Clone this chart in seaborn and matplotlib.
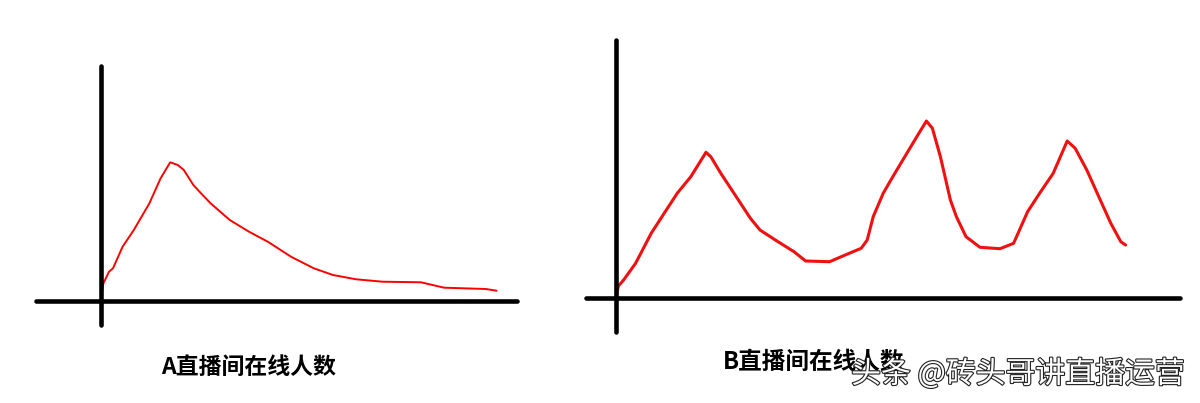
import seaborn as sns
import matplotlib.pyplot as plt
import matplotlib.patheffects as pe
import pandas as pd

# Room A: one peak early, then a long decay (time in minutes, online viewers)
a_time = [0, 0.6, 2, 3, 5.4, 8.2, 12.1, 14.9, 17.3, 19.2, 20.7, 23.1, 25, 27.4,
          32.2, 37, 41.7, 47.5, 53.2, 58, 63.8, 70.4, 80, 85.8, 96.2, 98.9]
a_viewers = [20, 177, 293, 327, 543, 710, 977, 1227, 1387, 1360, 1310, 1160, 1077, 977,
             810, 693, 593, 443, 327, 260, 217, 193, 187, 133, 120, 103]

# Room B: three waves of viewers
b_time = [0, 0.6, 1.9, 4.9, 8.8, 12.3, 15.3, 18.7, 22.5, 23.7, 26.2, 30.6, 33.6, 36,
          40.5, 44.5, 47.4, 53.4, 57.3, 61.3, 62.8, 64.3, 66.8, 69.2, 72.2, 75.2, 77.6,
          79.1, 81.1, 83.6, 85.1, 87.5, 91, 96, 99.4, 102.9, 105.9, 109.3, 112.8, 114.8,
          117.7, 120.7, 123.7, 126.2, 127.4]
b_viewers = [10, 120, 180, 347, 647, 863, 1047, 1213, 1457, 1413, 1247, 980, 797, 680,
             563, 463, 370, 363, 430, 497, 580, 813, 1047, 1213, 1413, 1613, 1770,
             1697, 1413, 980, 813, 613, 507, 493, 547, 863, 1047, 1247, 1570, 1497,
             1280, 1013, 747, 563, 530]

label_a = "A直播间在线人数"
label_b = "B直播间在线人数"
watermark = "头条 @砖头哥讲直播运营"

sns.set_style("white")
plt.rcParams['font.family'] = ['Noto Sans CJK SC', 'DejaVu Sans']

W, H = 1200, 403
fig = plt.figure(figsize=(12, 4.03), dpi=100)


def make_axes(left, right, top, bottom):
    """Axes placed by pixel box of the hand-drawn frame."""
    return fig.add_axes([left / W, 1 - bottom / H, (right - left) / W, (bottom - top) / H])


def style_axes(ax):
    for side in ['top', 'right']:
        ax.spines[side].set_visible(False)
    for side in ['left', 'bottom']:
        ax.spines[side].set_position(('data', 0))
        ax.spines[side].set_linewidth(3.3)
        ax.spines[side].set_color('black')
        ax.spines[side].set_capstyle('round')
    ax.set_xticks([])
    ax.set_yticks([])
    ax.set_xlabel('')
    ax.set_ylabel('')
    ax.patch.set_alpha(0)


df_a = pd.DataFrame({'time': a_time, 'viewers': a_viewers})
ax_a = make_axes(36, 517, 66, 325)
sns.lineplot(data=df_a, x='time', y='viewers', ax=ax_a, color='#ff0000', linewidth=1.4, sort=False)
ax_a.set_xlim(-16.25, 104)
ax_a.set_ylim(-240, 2350)
style_axes(ax_a)

df_b = pd.DataFrame({'time': b_time, 'viewers': b_viewers})
ax_b = make_axes(586, 1180, 40, 332)
sns.lineplot(data=df_b, x='time', y='viewers', ax=ax_b, color='#f01010', linewidth=2.2, sort=False)
ax_b.set_xlim(-7.5, 141)
ax_b.set_ylim(-340, 2580)
style_axes(ax_b)

fig.text(249 / W, 1 - 367 / H, label_a, ha='center', va='center',
         fontsize=16.5, fontweight='bold', color='black')
fig.text(814 / W, 1 - 362 / H, label_b, ha='center', va='center',
         fontsize=17, fontweight='bold', color='black')
fig.text(1018 / W, 1 - 374 / H, watermark, ha='center', va='center',
         fontsize=21.5, color='white',
         path_effects=[pe.Stroke(linewidth=1.6, foreground='#222222'), pe.Normal()])

plt.savefig("out.png", dpi=100)
